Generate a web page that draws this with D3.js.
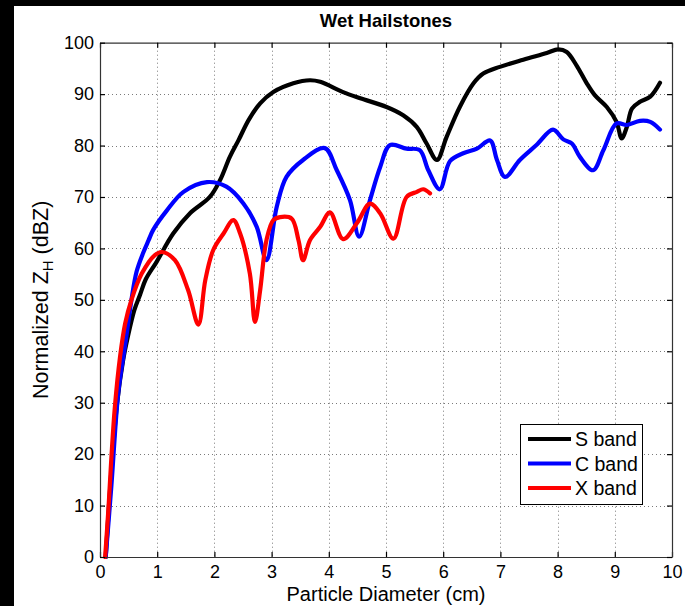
<!DOCTYPE html>
<html><head><meta charset="utf-8">
<script src="https://cdn.jsdelivr.net/npm/d3@7"></script>
<style>html,body{margin:0;padding:0;background:#000;}svg{display:block;}</style>
</head><body>
<script>
const xTicks = [0,1,2,3,4,5,6,7,8,9,10];
const yTicks = [0,10,20,30,40,50,60,70,80,90,100];
const seriesNames = ["S band","C band","X band"];
const seriesColors = ["#000000","#0000ff","#ff0000"];

const sBand = [[0.1,0],[0.2,17],[0.3,30],[0.4,38],[0.49,43],[0.6,48],[0.7,51],[0.8,54],[0.99,57.4],[1.28,62.9],[1.57,66.8],[1.92,70],[2.1,73.3],[2.27,77.8],[2.42,81],[2.6,85],[2.8,88.2],[3.03,90.4],[3.38,92.1],[3.67,92.7],[3.85,92.4],[4.25,90.4],[4.55,89.2],[5.01,87.5],[5.3,85.9],[5.54,83.6],[5.71,80.4],[5.89,77.2],[6.06,81.7],[6.29,87.5],[6.53,92.1],[6.7,94],[6.99,95.3],[7.4,96.7],[7.81,98],[8.01,98.7],[8.16,98.2],[8.33,95.6],[8.51,92.1],[8.65,89.8],[8.86,87.5],[9.03,84.6],[9.12,81.4],[9.21,83.6],[9.3,87.2],[9.44,88.5],[9.62,89.5],[9.79,92.2]];

const cBand = [[0.1,0],[0.2,14],[0.32,32],[0.45,42],[0.55,50],[0.64,55.5],[0.75,59],[0.85,61.6],[0.93,63.6],[1.17,67.4],[1.46,71],[1.87,72.9],[2.21,72],[2.51,68.7],[2.74,64.2],[2.91,57.7],[3.09,68.1],[3.26,73.9],[3.55,77.2],[3.93,79.5],[4.14,75.2],[4.37,69.4],[4.53,62.3],[4.72,69.4],[4.9,75.9],[5.07,80.1],[5.36,79.4],[5.59,79.1],[5.74,75.2],[5.94,71.5],[6.12,77],[6.35,78.5],[6.59,79.4],[6.82,81],[6.94,77.2],[7.08,73.9],[7.34,77.2],[7.63,80.1],[7.92,83.1],[8.1,81.2],[8.25,80.4],[8.39,77.8],[8.62,75.2],[8.8,79.1],[9.03,84.3],[9.21,84],[9.44,84.8],[9.62,84.6],[9.79,83.1]];

const xBand = [[0.09,0],[0.15,9.8],[0.2,19.5],[0.26,29.2],[0.35,38.9],[0.44,45.4],[0.55,50],[0.73,55.1],[0.96,58.7],[1.08,59.3],[1.31,57.7],[1.54,51.9],[1.72,45.2],[1.84,53.8],[1.98,59.7],[2.16,62.9],[2.33,65.5],[2.45,62.9],[2.62,55.1],[2.71,45.7],[2.8,51.9],[2.91,61.6],[3.03,65.5],[3.15,66.1],[3.35,65.8],[3.47,61.6],[3.55,57.7],[3.67,61.6],[3.85,64.2],[4.02,67],[4.25,61.8],[4.49,64.9],[4.72,68.7],[4.9,66.8],[5.13,61.9],[5.36,70],[5.54,71],[5.65,71.5],[5.77,70.7]];

const allSeries = [sBand, cBand, xBand];

const W = 685, H = 606;
const svg = d3.select("body").append("svg").attr("width", W).attr("height", H);
svg.append("rect").attr("x",0).attr("y",0).attr("width",W).attr("height",H).attr("fill","#000");
svg.append("rect").attr("x",14).attr("y",6).attr("width",W-14).attr("height",H-6).attr("fill","#fff");

const L = 100, R = 672, T = 42.7, B = 557;
const x = d3.scaleLinear().domain([0,10]).range([L,R]);
const y = d3.scaleLinear().domain([0,100]).range([B,T]);
const font = "'Liberation Sans', Arial, Helvetica, sans-serif";

// grid
const grid = svg.append("g").attr("stroke","#7a7a7a").attr("stroke-width",1).attr("stroke-dasharray","1,3");
grid.selectAll(".gx").data(xTicks.slice(1,-1)).enter().append("line")
  .attr("x1",d=>Math.round(x(d))+0.5).attr("x2",d=>Math.round(x(d))+0.5).attr("y1",T).attr("y2",B);
grid.selectAll(".gy").data(yTicks.slice(1,-1)).enter().append("line")
  .attr("y1",d=>Math.round(y(d))+0.5).attr("y2",d=>Math.round(y(d))+0.5).attr("x1",L).attr("x2",R);

// lines
const line = d3.line().x(d=>x(d[0])).y(d=>y(d[1])).curve(d3.curveCatmullRom.alpha(0.5));
svg.append("clipPath").attr("id","clp").append("rect").attr("x",L).attr("y",T).attr("width",R-L).attr("height",B-T+2);
allSeries.forEach((s,i)=>{
  svg.append("path").datum(s).attr("d",line).attr("fill","none")
    .attr("stroke",seriesColors[i]).attr("stroke-width",4.2)
    .attr("stroke-linejoin","round").attr("stroke-linecap","round").attr("clip-path","url(#clp)");
});

// axes with inward ticks
const axB = d3.axisBottom(x).tickValues(xTicks).tickSizeInner(-5).tickSizeOuter(0).tickPadding(8);
const axT = d3.axisTop(x).tickValues(xTicks).tickSizeInner(-5).tickSizeOuter(0).tickFormat("");
const axLf = d3.axisLeft(y).tickValues(yTicks).tickSizeInner(-5).tickSizeOuter(0).tickPadding(6);
const axRt = d3.axisRight(y).tickValues(yTicks).tickSizeInner(-5).tickSizeOuter(0).tickFormat("");
function style(g){
  g.selectAll("path").attr("stroke","#333").attr("stroke-width",1.2);
  g.selectAll("line").attr("stroke","#000").attr("stroke-width",1.2);
  g.selectAll("text").attr("font-family",font).attr("font-size",18).attr("fill","#000");
}
svg.append("g").attr("transform",`translate(0,${B})`).call(axB).call(style);
svg.append("g").attr("transform",`translate(0,${T})`).call(axT).call(style);
svg.append("g").attr("transform",`translate(${L},0)`).call(axLf).call(style);
svg.append("g").attr("transform",`translate(${R},0)`).call(axRt).call(style);

// title and labels
svg.append("text").attr("x",(L+R)/2).attr("y",27).attr("text-anchor","middle")
  .attr("font-family",font).attr("font-weight","bold").attr("font-size",18.5).text("Wet Hailstones");
svg.append("text").attr("x",(L+R)/2).attr("y",601).attr("text-anchor","middle")
  .attr("font-family",font).attr("font-size",20).text("Particle Diameter (cm)");
const yl = svg.append("text").attr("transform",`translate(48,${(T+B)/2}) rotate(-90)`).attr("text-anchor","middle")
  .attr("font-family",font).attr("font-size",21.5);
yl.append("tspan").text("Normalized Z");
yl.append("tspan").attr("font-size",15).attr("dy",5).text("H");
yl.append("tspan").attr("dy",-5).text(" (dBZ)");

// legend
const lg = svg.append("g");
lg.append("rect").attr("x",520.5).attr("y",424.5).attr("width",122).attr("height",80)
  .attr("fill","#fff").attr("stroke","#000").attr("stroke-width",1);
seriesNames.forEach((n,i)=>{
  const yy = 439 + i*24.5;
  lg.append("line").attr("x1",528).attr("x2",571).attr("y1",yy).attr("y2",yy)
    .attr("stroke",seriesColors[i]).attr("stroke-width",4.2);
  lg.append("text").attr("x",575).attr("y",yy+7).attr("font-family",font).attr("font-size",19.5).text(n);
});
</script>
</body></html>
